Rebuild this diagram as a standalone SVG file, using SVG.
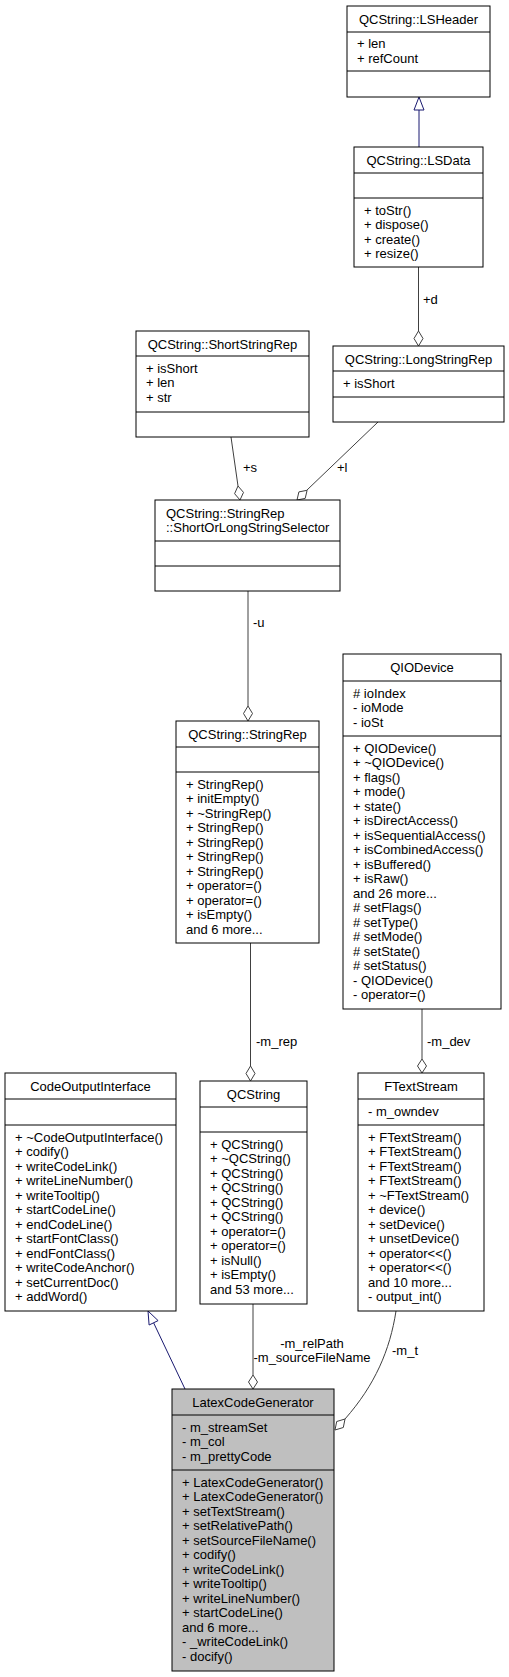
<svg xmlns="http://www.w3.org/2000/svg" width="509" height="1677" viewBox="0 0 509 1677">
<style>
text{font-family:"Liberation Sans",Arial,Helvetica,sans-serif;font-size:13px;fill:#000}
.t{text-anchor:middle}
.box{fill:#fff;stroke:#000;stroke-width:1}
.cur{fill:#bfbfbf;stroke:#000;stroke-width:1}
.sep{stroke:#000;stroke-width:1}
.agg{fill:none;stroke:#404040;stroke-width:1}
.dia{fill:#fff;stroke:#404040;stroke-width:1}
.inh{fill:none;stroke:#191970;stroke-width:1}
.tri{fill:#fff;stroke:#191970;stroke-width:1}
</style>
<rect width="509" height="1677" fill="#fff"/>
<g id="connectors">
<path class="inh" d="M419,147 L419,110"/>
<polygon class="tri" points="419,97 414,110 424,110"/>
<path class="agg" d="M418.5,267 L418.5,331"/>
<polygon class="dia" points="418.5,346 414,338.5 418.5,331 423,338.5"/>
<text x="423" y="304">+d</text>
<path class="agg" d="M231,437 L238,486"/>
<polygon class="dia" points="240,500 243.5,492.4 238,486 234.6,493.7"/>
<text x="243" y="472">+s</text>
<path class="agg" d="M378,422 L307,490"/>
<polygon class="dia" points="297,500 305.2,498.4 307.1,490.3 298.9,491.9"/>
<text x="337" y="472">+l</text>
<path class="agg" d="M248,591 L248,706"/>
<polygon class="dia" points="248,721 243.5,713.5 248,706 252.5,713.5"/>
<text x="253" y="627">-u</text>
<path class="agg" d="M250.5,943 L250.5,1066"/>
<polygon class="dia" points="250.5,1081 246,1073.5 250.5,1066 255,1073.5"/>
<text x="256" y="1046">-m_rep</text>
<path class="agg" d="M422,1009 L422,1059"/>
<polygon class="dia" points="422,1073 417.5,1066 422,1059 426.5,1066"/>
<text x="427" y="1046">-m_dev</text>
<path class="inh" d="M185,1389 L153.6,1322.8"/>
<polygon class="tri" points="148,1311 158.1,1320.6 149.1,1325"/>
<path class="agg" d="M253,1304 L253,1375"/>
<polygon class="dia" points="253,1389 248.5,1382 253,1375 257.5,1382"/>
<text class="t" x="312" y="1347.5">-m_relPath</text>
<text class="t" x="312" y="1361.5">-m_sourceFileName</text>
<path class="agg" d="M396,1311 C390,1350 375,1385 345,1419"/>
<polygon class="dia" points="335,1430 343.3,1427.5 345,1419 336.7,1421.5"/>
<text x="392" y="1354.5">-m_t</text>
</g>
<g id="LSHeader">
<rect class="box" x="347" y="6" width="143" height="91"/>
<line class="sep" x1="347" y1="32" x2="490" y2="32"/>
<line class="sep" x1="347" y1="71" x2="490" y2="71"/>
<text class="t" x="418.5" y="23.5">QCString::LSHeader</text>
<text x="357" y="48">+ len</text>
<text x="357" y="62.5">+ refCount</text>
</g>
<g id="LSData">
<rect class="box" x="354" y="147" width="129" height="120"/>
<line class="sep" x1="354" y1="173" x2="483" y2="173"/>
<line class="sep" x1="354" y1="198" x2="483" y2="198"/>
<text class="t" x="418.5" y="164.5">QCString::LSData</text>
<text x="364" y="214.5">+ toStr()</text>
<text x="364" y="229">+ dispose()</text>
<text x="364" y="243.5">+ create()</text>
<text x="364" y="258">+ resize()</text>
</g>
<g id="ShortStringRep">
<rect class="box" x="136" y="331" width="173" height="106"/>
<line class="sep" x1="136" y1="356" x2="309" y2="356"/>
<line class="sep" x1="136" y1="412" x2="309" y2="412"/>
<text class="t" x="222.5" y="348.5">QCString::ShortStringRep</text>
<text x="146" y="372.5">+ isShort</text>
<text x="146" y="387">+ len</text>
<text x="146" y="401.5">+ str</text>
</g>
<g id="LongStringRep">
<rect class="box" x="333" y="346" width="171" height="76"/>
<line class="sep" x1="333" y1="371" x2="504" y2="371"/>
<line class="sep" x1="333" y1="397" x2="504" y2="397"/>
<text class="t" x="418.5" y="363.5">QCString::LongStringRep</text>
<text x="343" y="387.5">+ isShort</text>
</g>
<g id="ShortOrLongStringSelector">
<rect class="box" x="155" y="500" width="185" height="91"/>
<line class="sep" x1="155" y1="541" x2="340" y2="541"/>
<line class="sep" x1="155" y1="566" x2="340" y2="566"/>
<text x="166" y="517.5">QCString::StringRep</text>
<text x="166" y="532">::ShortOrLongStringSelector</text>
</g>
<g id="StringRep">
<rect class="box" x="176" y="721" width="143" height="222"/>
<line class="sep" x1="176" y1="747" x2="319" y2="747"/>
<line class="sep" x1="176" y1="772" x2="319" y2="772"/>
<text class="t" x="247.5" y="738.5">QCString::StringRep</text>
<text x="186" y="788.5">+ StringRep()</text>
<text x="186" y="803">+ initEmpty()</text>
<text x="186" y="817.5">+ ~StringRep()</text>
<text x="186" y="832">+ StringRep()</text>
<text x="186" y="846.5">+ StringRep()</text>
<text x="186" y="861">+ StringRep()</text>
<text x="186" y="875.5">+ StringRep()</text>
<text x="186" y="890">+ operator=()</text>
<text x="186" y="904.5">+ operator=()</text>
<text x="186" y="919">+ isEmpty()</text>
<text x="186" y="933.5">and 6 more...</text>
</g>
<g id="QIODevice">
<rect class="box" x="343" y="654" width="158" height="355"/>
<line class="sep" x1="343" y1="681" x2="501" y2="681"/>
<line class="sep" x1="343" y1="736" x2="501" y2="736"/>
<text class="t" x="422" y="672">QIODevice</text>
<text x="353" y="697.5"># ioIndex</text>
<text x="353" y="712">- ioMode</text>
<text x="353" y="726.5">- ioSt</text>
<text x="353" y="752.5">+ QIODevice()</text>
<text x="353" y="767">+ ~QIODevice()</text>
<text x="353" y="781.5">+ flags()</text>
<text x="353" y="796">+ mode()</text>
<text x="353" y="810.5">+ state()</text>
<text x="353" y="825">+ isDirectAccess()</text>
<text x="353" y="839.5">+ isSequentialAccess()</text>
<text x="353" y="854">+ isCombinedAccess()</text>
<text x="353" y="868.5">+ isBuffered()</text>
<text x="353" y="883">+ isRaw()</text>
<text x="353" y="897.5">and 26 more...</text>
<text x="353" y="912"># setFlags()</text>
<text x="353" y="926.5"># setType()</text>
<text x="353" y="941"># setMode()</text>
<text x="353" y="955.5"># setState()</text>
<text x="353" y="970"># setStatus()</text>
<text x="353" y="984.5">- QIODevice()</text>
<text x="353" y="999">- operator=()</text>
</g>
<g id="CodeOutputInterface">
<rect class="box" x="5" y="1073" width="171" height="238"/>
<line class="sep" x1="5" y1="1099" x2="176" y2="1099"/>
<line class="sep" x1="5" y1="1125" x2="176" y2="1125"/>
<text class="t" x="90.5" y="1090.5">CodeOutputInterface</text>
<text x="15" y="1141.5">+ ~CodeOutputInterface()</text>
<text x="15" y="1156">+ codify()</text>
<text x="15" y="1170.5">+ writeCodeLink()</text>
<text x="15" y="1185">+ writeLineNumber()</text>
<text x="15" y="1199.5">+ writeTooltip()</text>
<text x="15" y="1214">+ startCodeLine()</text>
<text x="15" y="1228.5">+ endCodeLine()</text>
<text x="15" y="1243">+ startFontClass()</text>
<text x="15" y="1257.5">+ endFontClass()</text>
<text x="15" y="1272">+ writeCodeAnchor()</text>
<text x="15" y="1286.5">+ setCurrentDoc()</text>
<text x="15" y="1301">+ addWord()</text>
</g>
<g id="QCString">
<rect class="box" x="200" y="1081" width="107" height="223"/>
<line class="sep" x1="200" y1="1107" x2="307" y2="1107"/>
<line class="sep" x1="200" y1="1132" x2="307" y2="1132"/>
<text class="t" x="253.5" y="1098.5">QCString</text>
<text x="210" y="1148.5">+ QCString()</text>
<text x="210" y="1163">+ ~QCString()</text>
<text x="210" y="1177.5">+ QCString()</text>
<text x="210" y="1192">+ QCString()</text>
<text x="210" y="1206.5">+ QCString()</text>
<text x="210" y="1221">+ QCString()</text>
<text x="210" y="1235.5">+ operator=()</text>
<text x="210" y="1250">+ operator=()</text>
<text x="210" y="1264.5">+ isNull()</text>
<text x="210" y="1279">+ isEmpty()</text>
<text x="210" y="1293.5">and 53 more...</text>
</g>
<g id="FTextStream">
<rect class="box" x="358" y="1073" width="126" height="238"/>
<line class="sep" x1="358" y1="1099" x2="484" y2="1099"/>
<line class="sep" x1="358" y1="1125" x2="484" y2="1125"/>
<text class="t" x="421" y="1090.5">FTextStream</text>
<text x="368" y="1116">- m_owndev</text>
<text x="368" y="1141.5">+ FTextStream()</text>
<text x="368" y="1156">+ FTextStream()</text>
<text x="368" y="1170.5">+ FTextStream()</text>
<text x="368" y="1185">+ FTextStream()</text>
<text x="368" y="1199.5">+ ~FTextStream()</text>
<text x="368" y="1214">+ device()</text>
<text x="368" y="1228.5">+ setDevice()</text>
<text x="368" y="1243">+ unsetDevice()</text>
<text x="368" y="1257.5">+ operator&lt;&lt;()</text>
<text x="368" y="1272">+ operator&lt;&lt;()</text>
<text x="368" y="1286.5">and 10 more...</text>
<text x="368" y="1301">- output_int()</text>
</g>
<g id="LatexCodeGenerator">
<rect class="cur" x="172" y="1389" width="162" height="282"/>
<line class="sep" x1="172" y1="1415" x2="334" y2="1415"/>
<line class="sep" x1="172" y1="1470" x2="334" y2="1470"/>
<text class="t" x="253" y="1406.5">LatexCodeGenerator</text>
<text x="182" y="1431.5">- m_streamSet</text>
<text x="182" y="1446">- m_col</text>
<text x="182" y="1460.5">- m_prettyCode</text>
<text x="182" y="1486.5">+ LatexCodeGenerator()</text>
<text x="182" y="1501">+ LatexCodeGenerator()</text>
<text x="182" y="1515.5">+ setTextStream()</text>
<text x="182" y="1530">+ setRelativePath()</text>
<text x="182" y="1544.5">+ setSourceFileName()</text>
<text x="182" y="1559">+ codify()</text>
<text x="182" y="1573.5">+ writeCodeLink()</text>
<text x="182" y="1588">+ writeTooltip()</text>
<text x="182" y="1602.5">+ writeLineNumber()</text>
<text x="182" y="1617">+ startCodeLine()</text>
<text x="182" y="1631.5">and 6 more...</text>
<text x="182" y="1646">- _writeCodeLink()</text>
<text x="182" y="1660.5">- docify()</text>
</g>
</svg>
